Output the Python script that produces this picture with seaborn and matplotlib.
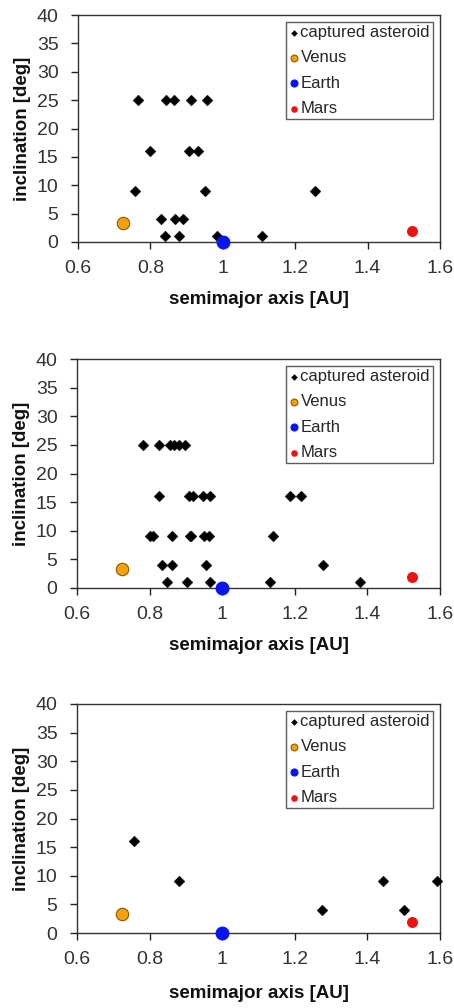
import matplotlib
matplotlib.use("Agg")
import matplotlib.pyplot as plt
import seaborn as sns
import pandas as pd

sns.set_theme(style="white")
plt.rcParams['font.family'] = ['Liberation Sans', 'DejaVu Sans']

# --- data ---------------------------------------------------------------
# panel 1
p1_a = [0.765, 0.842, 0.865, 0.911, 0.957,
        0.800, 0.908, 0.931,
        0.758, 0.951, 1.256,
        0.829, 0.867, 0.890,
        0.839, 0.878, 0.983, 1.107]
p1_i = [25, 25, 25, 25, 25,
        16, 16, 16,
        9, 9, 9,
        4, 4, 4,
        1, 1, 1, 1]
# panel 2
p2_a = [0.782, 0.826, 0.856, 0.868, 0.880, 0.898,
        0.827, 0.908, 0.919, 0.947, 0.967, 1.188, 1.217,
        0.800, 0.808, 0.862, 0.910, 0.914, 0.949, 0.963, 1.139,
        0.834, 0.862, 0.956, 1.278,
        0.848, 0.902, 0.966, 1.133, 1.379]
p2_i = [25, 25, 25, 25, 25, 25,
        16, 16, 16, 16, 16, 16, 16,
        9, 9, 9, 9, 9, 9, 9, 9,
        4, 4, 4, 4,
        1, 1, 1, 1, 1]
# panel 3
p3_a = [0.756, 0.880, 1.274, 1.502, 1.443, 1.593]
p3_i = [16, 9, 4, 4, 9, 9]

planet_names = ["Venus", "Earth", "Mars"]
planet_a = [0.723, 1.000, 1.524]
planet_i = [3.4, 0.0, 1.9]
planet_colors = ["#F5A10E", "#0A14F0", "#F01010"]
planet_edges = ["#8A5A00", "#0A14F0", "#F01010"]
planet_sizes = [80, 85, 50]

xticks = [0.6, 0.8, 1.0, 1.2, 1.4, 1.6]
xticklabels = ["0.6", "0.8", "1", "1.2", "1.4", "1.6"]
yticks = [0, 5, 10, 15, 20, 25, 30, 35, 40]

panels = [(p1_a, p1_i), (p2_a, p2_i), (p3_a, p3_i)]

W, H = 454, 1008
fig = plt.figure(figsize=(W / 100, H / 100), dpi=100)
fig.patch.set_facecolor("white")

boxes = [(78, 15, 440, 242), (77, 359, 440, 588), (77, 704, 440, 933)]
xlabel_y = [299, 645, 993]

for (a, inc), (l, t, r, b), xly in zip(panels, boxes, xlabel_y):
    ax = fig.add_axes([l / W, 1 - b / H, (r - l) / W, (b - t) / H])
    df = pd.DataFrame({"a": a, "i": inc})
    sns.scatterplot(data=df, x="a", y="i", ax=ax, marker="D", s=30,
                    color="black", edgecolor="black", linewidth=0.3,
                    label="captured asteroid", clip_on=False, zorder=3)
    for n, pa, pi, c, ec, sz in zip(planet_names, planet_a, planet_i,
                                    planet_colors, planet_edges, planet_sizes):
        pdf = pd.DataFrame({"a": [pa], "i": [pi]})
        sns.scatterplot(data=pdf, x="a", y="i", ax=ax, marker="o", s=sz,
                        color=c, edgecolor=ec, linewidth=0.8, label=n,
                        clip_on=False, zorder=4)
    ax.set_xlim(0.6, 1.6)
    ax.set_ylim(0, 40)
    ax.set_xticks(xticks)
    ax.set_xticklabels(xticklabels)
    ax.set_yticks(yticks)
    ax.tick_params(axis="both", direction="out", length=5, width=1,
                   color="#222222", labelsize=14, labelcolor="#333333",
                   bottom=True, left=True)
    ax.tick_params(axis="x", pad=8)
    ax.tick_params(axis="y", pad=9)
    for s in ax.spines.values():
        s.set_visible(True)
        s.set_color("#333333")
        s.set_linewidth(1.0)
    ax.set_xlabel("")
    ax.set_ylabel("inclination [deg]", fontsize=13.5, fontweight="bold",
                  color="#111111")
    ax.yaxis.set_label_coords(-0.13, 0.5)
    fig.text((l + r) / 2 / W, 1 - xly / H, "semimajor axis [AU]",
             ha="center", va="center", fontsize=13.5, fontweight="bold",
             color="#111111")
    leg = ax.legend(loc="upper right", fontsize=12, frameon=True,
                    fancybox=False, edgecolor="#333333", borderpad=0.2,
                    labelspacing=0.62, handletextpad=0.15, handlelength=0.5,
                    borderaxespad=0.4, markerscale=0.55)
    leg.get_frame().set_linewidth(1.0)

fig.savefig("out.png", dpi=100, facecolor="white")
